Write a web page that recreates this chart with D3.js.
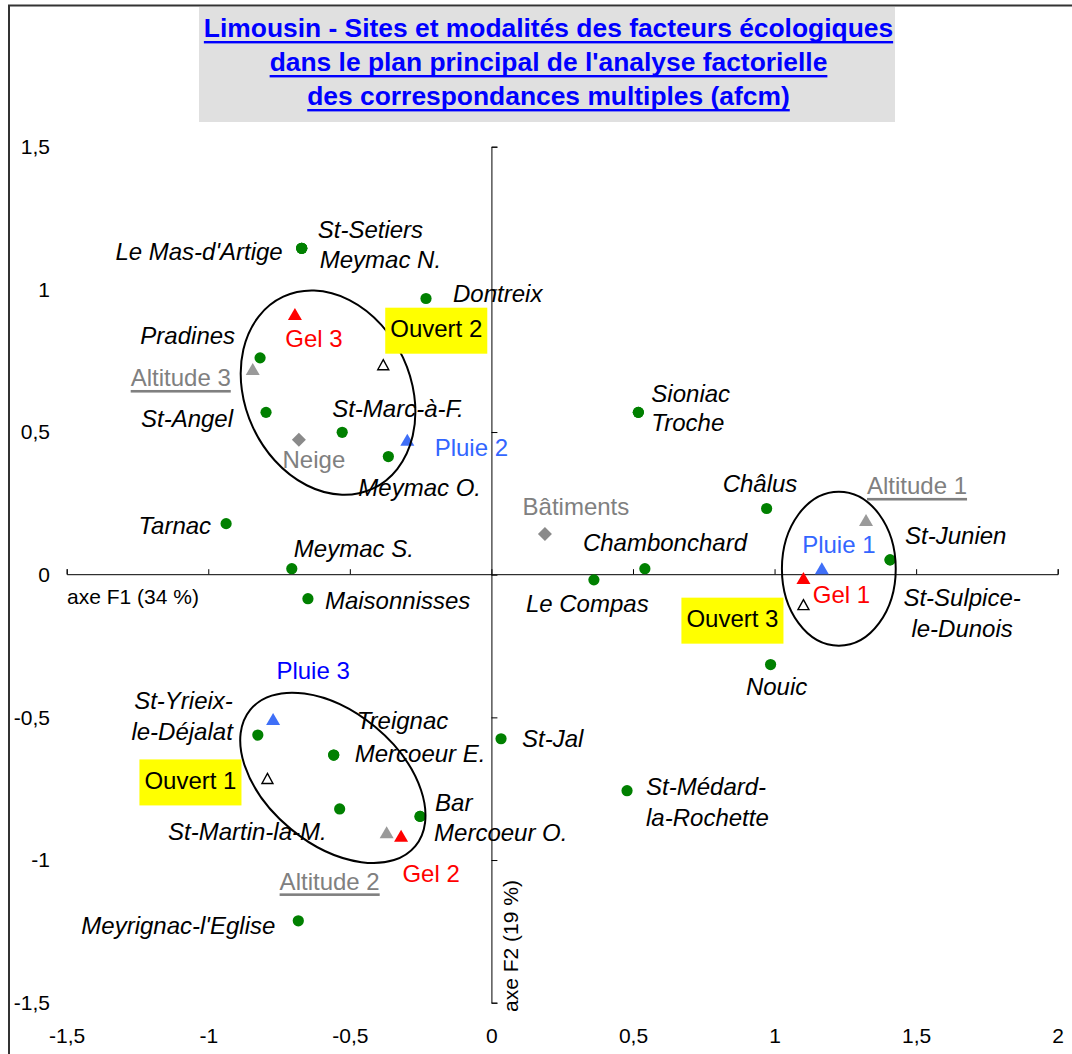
<!DOCTYPE html>
<html lang="fr">
<head>
<meta charset="UTF-8">
<script src="https://d3js.org/d3.v7.min.js"></script>
<title>Limousin - AFCM</title>
<style>
  body { margin: 0; background: #fff; }
  svg text { font-family: Arial, "Liberation Sans", sans-serif; }
</style>
</head>
<body>
<svg width="1072" height="1054"></svg>
<script>
// --- data ---
var titleLines = [
  "Limousin - Sites et modalités des facteurs écologiques",
  "dans le plan principal de l'analyse factorielle",
  "des correspondances multiples (afcm)"
];
var xTicks = [-1.5, -1, -0.5, 0, 0.5, 1, 1.5, 2];
var yTicks = [-1.5, -1, -0.5, 0, 0.5, 1, 1.5];
var xAxisTitle = "axe F1 (34 %)";
var yAxisTitle = "axe F2 (19 %)";

// sites (green dots); "\n" = line break in the label
var siteNames = ["Le Mas-d'Artige", "St-Setiers", "Meymac N.", "Dontreix", "Pradines",
  "St-Angel", "St-Marc-à-F.", "Meymac O.", "Tarnac", "Meymac S.", "Maisonnisses",
  "Sioniac", "Troche", "Châlus", "Chambonchard", "Le Compas", "St-Junien",
  "St-Sulpice-\nle-Dunois", "Nouic", "St-Jal", "St-Médard-\nla-Rochette",
  "St-Yrieix-\nle-Déjalat", "Treignac", "Mercoeur E.", "St-Martin-la-M.", "Bar",
  "Mercoeur O.", "Meyrignac-l'Eglise"];
var siteX = [-0.67, -0.67, -0.67, -0.231, -0.817, -0.796, -0.527, -0.364, -0.937, -0.705, -0.648,
  0.519, 0.519, 0.972, 0.542, 0.362, 1.408, 1.408, 0.986, 0.034, 0.479,
  -0.825, -0.557, -0.557, -0.536, -0.252, -0.252, -0.682];
var siteY = [1.144, 1.144, 1.144, 0.968, 0.76, 0.569, 0.499, 0.414, 0.179, 0.021, -0.084,
  0.569, 0.569, 0.232, 0.021, -0.018, 0.052, 0.052, -0.315, -0.575, -0.757,
  -0.562, -0.632, -0.632, -0.821, -0.847, -0.847, -1.213];

// modalities of the ecological factors
var modNames = ["Gel 1", "Gel 2", "Gel 3", "Pluie 1", "Pluie 2", "Pluie 3",
  "Altitude 1", "Altitude 2", "Altitude 3", "Ouvert 1", "Ouvert 2", "Ouvert 3", "Neige", "Bâtiments"];
var modType = ["gel", "gel", "gel", "pluie", "pluie", "pluie",
  "alt", "alt", "alt", "ouvert", "ouvert", "ouvert", "neige", "neige"];
var modX = [1.102, -0.319, -0.694, 1.167, -0.297, -0.771, 1.323, -0.37, -0.843, -0.791, -0.382, 1.102, -0.68, 0.189];
var modY = [-0.012, -0.915, 0.914, 0.023, 0.473, -0.506, 0.192, -0.903, 0.721, -0.714, 0.736, -0.105, 0.473, 0.143];

// groups circled by hand
var ellCx = [-0.577, 1.227, -0.56];
var ellCy = [0.638, 0.021, -0.712];
var ellRx = [0.374, 0.201, 0.378];
var ellRy = [0.29, 0.27, 0.232];
var ellAngle = [65, 0, 39.6];

// label placement (px offsets from the marker, anchor)
var siteLabelPos = {
  "Le Mas-d'Artige": [-19, 3, "end"], "St-Setiers": [16, -19, "start"], "Meymac N.": [18, 11, "start"],
  "Dontreix": [27, -5, "start"], "Pradines": [-25, -22, "end"], "St-Angel": [-33, 6, "end"],
  "St-Marc-à-F.": [-10, -24, "start"], "Meymac O.": [-30, 31, "start"], "Tarnac": [-15, 2, "end"],
  "Meymac S.": [2, -20, "start"], "Maisonnisses": [17, 2, "start"], "Sioniac": [13, -19, "start"],
  "Troche": [13, 10, "start"], "Châlus": [-44, -25, "start"], "Chambonchard": [-62, -26, "start"],
  "Le Compas": [-68, 24, "start"], "St-Junien": [15, -24, "start"], "St-Sulpice-\nle-Dunois": [72, 38, "middle"],
  "Nouic": [6, 22, "middle"], "St-Jal": [21, 0, "start"], "St-Médard-\nla-Rochette": [19, -4, "start"],
  "St-Yrieix-\nle-Déjalat": [-25, -34, "end"], "Treignac": [23, -34, "start"], "Mercoeur E.": [21, -1, "start"],
  "St-Martin-la-M.": [-13, 23, "end"], "Bar": [15, -14, "start"], "Mercoeur O.": [14, 16, "start"],
  "Meyrignac-l'Eglise": [-23, 5, "end"]
};
var modLabelPos = {
  "Gel 1": [38, 16], "Gel 2": [30, 38], "Gel 3": [19, 25],
  "Pluie 1": [17, -24], "Pluie 2": [64, 8], "Pluie 3": [40, -48],
  "Altitude 1": [51, -34], "Altitude 2": [-57, 49], "Altitude 3": [-72, 9],
  "Ouvert 1": [-77, 2], "Ouvert 2": [53, -36], "Ouvert 3": [-71, 14],
  "Neige": [15, 20], "Bâtiments": [31, -27]
};

// --- drawing ---
var svg = d3.select("svg");
var x = d3.scaleLinear().domain([-1.5, 2]).range([66.7, 1057.7]);
var y = d3.scaleLinear().domain([-1.5, 1.5]).range([1002.7, 146.7]);
var fmt = function(d) { return String(d).replace(".", ","); };

// frame
svg.append("rect").attr("x", 9).attr("y", 5.5).attr("width", 1200).attr("height", 1200)
  .attr("fill", "none").attr("stroke", "#333").attr("stroke-width", 2);

// title
svg.append("rect").attr("x", 199).attr("y", 7).attr("width", 696).attr("height", 115).attr("fill", "#e0e0e0");
var tg = svg.append("g");
titleLines.forEach(function(t, i) {
  var txt = tg.append("text").attr("x", 548.5).attr("y", 37 + i * 34)
    .attr("text-anchor", "middle").attr("font-size", 26.4).attr("font-weight", "bold")
    .attr("fill", "#0000ff").text(t);
  var w = txt.node().getComputedTextLength();
  tg.append("rect").attr("x", 548.5 - w / 2).attr("y", 37 + i * 34 + 4).attr("width", w).attr("height", 2.4)
    .attr("fill", "#0000ff");
});

// axes through the origin
var gx = svg.append("g").attr("transform", "translate(0," + (y(0) - 0.5) + ")")
  .call(d3.axisTop(x).tickValues(xTicks).tickSize(5).tickFormat(""));
var gy = svg.append("g").attr("transform", "translate(" + x(0) + ",0)")
  .call(d3.axisRight(y).tickValues(yTicks).tickSize(6).tickFormat(""));
[gx, gy].forEach(function(g) { g.selectAll("path,line").attr("stroke", "#000"); });

// tick labels on the sides
var gl = svg.append("g").attr("transform", "translate(50,0)")
  .call(d3.axisLeft(y).tickValues(yTicks).tickSize(0).tickPadding(0).tickFormat(fmt));
var gb = svg.append("g").attr("transform", "translate(0,1028.5)")
  .call(d3.axisBottom(x).tickValues(xTicks).tickSize(0).tickPadding(0).tickFormat(fmt));
[gl, gb].forEach(function(g) {
  g.select(".domain").remove();
  g.attr("font-family", null).attr("font-size", 21);
  g.selectAll("text").attr("fill", "#000");
});

svg.append("text").attr("x", 67).attr("y", 604).attr("font-size", 21).text(xAxisTitle);
svg.append("text").attr("transform", "translate(518,1012) rotate(-90)").attr("font-size", 21).text(yAxisTitle);

// sites
var sites = siteNames.map(function(n, i) { return { name: n, x: siteX[i], y: siteY[i] }; });
svg.append("g").selectAll("circle").data(sites).enter().append("circle")
  .attr("cx", function(d) { return x(d.x); }).attr("cy", function(d) { return y(d.y); })
  .attr("r", 5.6).attr("fill", "#008000");

var sl = svg.append("g").selectAll("text").data(sites).enter().append("text")
  .attr("font-size", 24).attr("font-style", "italic").attr("fill", "#000")
  .attr("text-anchor", function(d) { return siteLabelPos[d.name][2]; })
  .attr("transform", function(d) {
    var p = siteLabelPos[d.name];
    return "translate(" + (x(d.x) + p[0]) + "," + (y(d.y) + p[1]) + ")";
  });
sl.each(function(d) {
  var lines = d.name.split("\n");
  var t = d3.select(this);
  lines.forEach(function(l, j) {
    t.append("tspan").attr("x", 0).attr("y", j * 31).attr("dy", "0.35em").text(l);
  });
});

// modalities
var mods = modNames.map(function(n, i) { return { name: n, type: modType[i], x: modX[i], y: modY[i] }; });
var markColor = { gel: "#ff0000", pluie: "#3f6ff7", alt: "#9a9a9a", ouvert: "#fff", neige: "#8a8a8a" };
var labelColor = { gel: "#ff0000", pluie: "#3366ff", alt: "#808080", ouvert: "#000", neige: "#808080" };
function tri(w, h) { return "M0," + (-h / 2) + "L" + (w / 2) + "," + (h / 2) + "L" + (-w / 2) + "," + (h / 2) + "Z"; }

svg.append("g").selectAll("path").data(mods).enter().append("path")
  .attr("transform", function(d) { return "translate(" + x(d.x) + "," + y(d.y) + ")"; })
  .attr("d", function(d) {
    if (d.type == "neige") return "M0,-7L7,0L0,7L-7,0Z";
    if (d.type == "ouvert") return tri(11, 10);
    return tri(14, 12);
  })
  .attr("fill", function(d) { return markColor[d.type]; })
  .attr("stroke", function(d) { return d.type == "ouvert" ? "#000" : "none"; })
  .attr("stroke-width", 1.4);

// hand drawn ellipses
var ells = ellCx.map(function(c, i) { return { cx: c, cy: ellCy[i], rx: ellRx[i], ry: ellRy[i], a: ellAngle[i] }; });
svg.append("g").selectAll("ellipse").data(ells).enter().append("ellipse")
  .attr("transform", function(d) { return "translate(" + x(d.cx) + "," + y(d.cy) + ") rotate(" + d.a + ")"; })
  .attr("rx", function(d) { return x(d.rx) - x(0); })
  .attr("ry", function(d) { return y(0) - y(d.ry); })
  .attr("fill", "none").attr("stroke", "#000").attr("stroke-width", 2);

// modality labels
var ml = svg.append("g").selectAll("g").data(mods).enter().append("g")
  .attr("transform", function(d) {
    var p = modLabelPos[d.name];
    return "translate(" + (x(d.x) + p[0]) + "," + (y(d.y) + p[1]) + ")";
  });
ml.each(function(d) {
  var g = d3.select(this);
  var t = g.append("text").attr("text-anchor", "middle").attr("dy", "0.35em")
    .attr("font-size", 24)
    .attr("fill", d.name == "Pluie 3" ? "#0000ff" : labelColor[d.type]).text(d.name);
  var w = t.node().getComputedTextLength();
  if (d.type == "ouvert") {
    g.insert("rect", "text").attr("x", -w / 2 - 5).attr("y", -21).attr("width", w + 10).attr("height", 46)
      .attr("fill", "#ffff00");
  }
  if (d.type == "alt") {
    g.append("rect").attr("x", -w / 2).attr("y", 12).attr("width", w).attr("height", 2.6).attr("fill", "#808080");
  }
});
</script>
</body>
</html>
